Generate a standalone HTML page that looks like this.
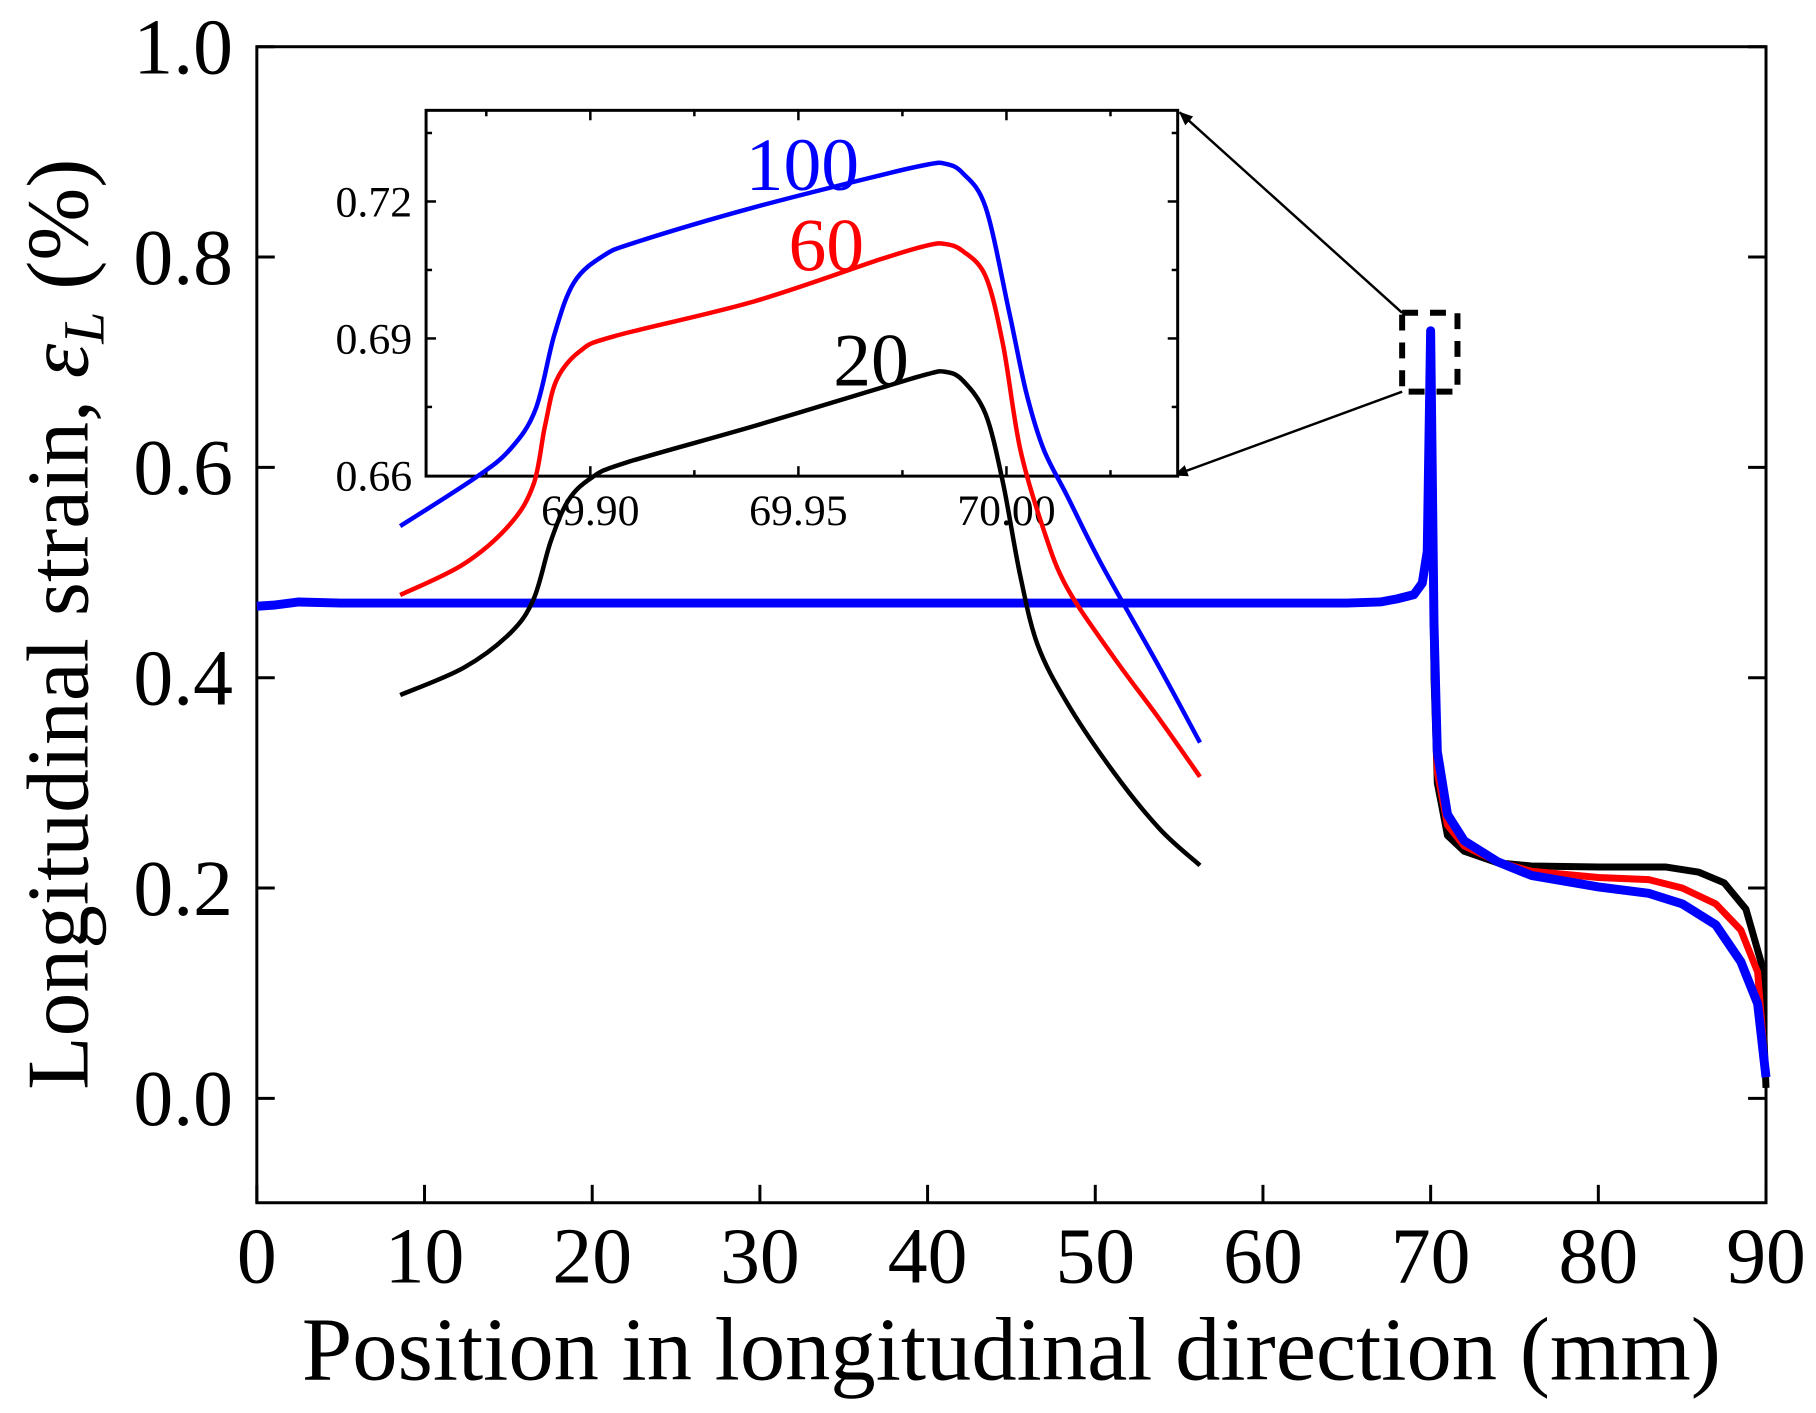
<!DOCTYPE html>
<html><head><meta charset="utf-8"><style>
html,body{margin:0;padding:0;background:#fff;}
svg{display:block;font-family:"Liberation Serif",serif;}
</style></head><body>
<svg id="chart" width="1816" height="1413" viewBox="0 0 1816 1413" xmlns="http://www.w3.org/2000/svg">
<defs><marker id="ah" markerWidth="14" markerHeight="12" refX="13" refY="6" orient="auto" markerUnits="userSpaceOnUse"><path d="M0,0 L14,6 L0,12 z" fill="#000"/></marker></defs>
<g transform="scale(0.9955,0.994)">
<g id="main"></g>
<g id="inset"></g>
</g>
</svg>
<script>
// ---- main chart data ----
const xTicksMain = [0,10,20,30,40,50,60,70,80,90];
const yTicksMain = [0.0,0.2,0.4,0.6,0.8,1.0];
const yTickLabelsMain = ["0.0","0.2","0.4","0.6","0.8","1.0"];
const sharedX = [0,1,2.5,5,20,40,60,65,67,68,69,69.5,69.8,70.0];
const sharedY = [0.468,0.469,0.472,0.471,0.471,0.471,0.471,0.471,0.472,0.475,0.479,0.49,0.52,0.73];
const blueTailX = [70.2,70.4,71,72,74,76,80,83,85,87,88.5,89.5,90];
const blueTailY = [0.45,0.33,0.27,0.245,0.225,0.212,0.201,0.195,0.185,0.165,0.13,0.09,0.02];
const redTailX = [70.2,70.4,71,72,74,76,80,83,85,87,88.5,89.5,90];
const redTailY = [0.42,0.31,0.26,0.24,0.225,0.216,0.21,0.208,0.2,0.185,0.16,0.12,0.02];
const blackTailX = [70.2,70.4,71,72,74,76,80,84,86,87.5,88.8,89.7,90];
const blackTailY = [0.4,0.30,0.25,0.235,0.224,0.221,0.22,0.22,0.215,0.205,0.18,0.13,0.01];
// ---- inset data ----
const insetXTicks = [69.90,69.95,70.00];
const insetXTickLabels = ["69.90","69.95","70.00"];
const insetYTicks = [0.66,0.69,0.72];
const insetYTickLabels = ["0.66","0.69","0.72"];
const insetBlueX = [69.8543,69.8724,69.8808,69.8869,69.8914,69.8961,69.9031,69.9114,69.9393,69.9699,69.9811,69.9852,69.9894,69.9950,70.0006,70.0047,70.0089,70.0145,70.0228,70.0368,70.0465];
const insetBlueY = [0.6489,0.6595,0.6658,0.6746,0.6910,0.7023,0.7081,0.7112,0.7187,0.7258,0.7281,0.7283,0.7263,0.7187,0.6960,0.6784,0.6658,0.6557,0.6406,0.6179,0.6015];
const insetRedX = [69.8543,69.8696,69.8808,69.8864,69.8891,69.8919,69.8975,69.9058,69.9393,69.9699,69.9811,69.9852,69.9894,69.9950,69.9992,70.0033,70.0089,70.0145,70.0256,70.0368,70.0465];
const insetRedY = [0.6338,0.6406,0.6494,0.6582,0.6708,0.6809,0.6872,0.6905,0.6981,0.7074,0.7104,0.7107,0.7092,0.7036,0.6885,0.6658,0.6482,0.6355,0.6204,0.6066,0.5940];
const insetBlackX = [69.8543,69.8696,69.8808,69.8864,69.8905,69.8947,69.9003,69.9086,69.9393,69.9699,69.9811,69.9852,69.9894,69.9950,69.9992,70.0033,70.0075,70.0145,70.0256,70.0368,70.0465];
const insetBlackY = [0.6119,0.6179,0.6255,0.6330,0.6456,0.6545,0.6595,0.6628,0.6708,0.6792,0.6822,0.6827,0.6809,0.6734,0.6582,0.6381,0.6229,0.6103,0.5952,0.5826,0.5746];

const NS="http://www.w3.org/2000/svg";
function mk(parent,tag,attrs,text){const e=document.createElementNS(NS,tag);for(const k in attrs)e.setAttribute(k,attrs[k]);if(text!==undefined)e.textContent=text;parent.appendChild(e);return e;}
const main=document.getElementById('main'), inset=document.getElementById('inset');

const L=258,R=1774,T=47,B=1210;
const sx=v=>L+(v-0)/90*(R-L);
const sy=v=>1105-v*1058;
function smoothPath(xs,ys,fx,fy){
  const p=xs.map((x,i)=>[fx(x),fy(ys[i])]);
  let d='M'+p[0][0].toFixed(1)+','+p[0][1].toFixed(1);
  for(let i=0;i<p.length-1;i++){
    const p0=p[Math.max(0,i-1)],p1=p[i],p2=p[i+1],p3=p[Math.min(p.length-1,i+2)];
    const c1=[p1[0]+(p2[0]-p0[0])/6,p1[1]+(p2[1]-p0[1])/6];
    const c2=[p2[0]-(p3[0]-p1[0])/6,p2[1]-(p3[1]-p1[1])/6];
    d+='C'+c1[0].toFixed(1)+','+c1[1].toFixed(1)+' '+c2[0].toFixed(1)+','+c2[1].toFixed(1)+' '+p2[0].toFixed(1)+','+p2[1].toFixed(1);
  }
  return d;
}
function linePath(xs,ys,fx,fy){return xs.map((x,i)=>(i?'L':'M')+fx(x).toFixed(1)+','+fy(ys[i]).toFixed(1)).join('');}

const frame=mk(main,'rect',{x:L,y:T,width:R-L,height:B-T,fill:'none',stroke:'#000','stroke-width':3});


xTicksMain.forEach(v=>{
  const t=mk(main,'line',{x1:sx(v),x2:sx(v),y1:B,y2:B-18,stroke:'#000','stroke-width':3});
  
  
  const lb=mk(main,'text',{x:sx(v),y:1290,'text-anchor':'middle','font-size':80},String(v));
  
  
});
yTicksMain.forEach((v,i)=>{
  const t=mk(main,'line',{x1:L,x2:L+18,y1:sy(v),y2:sy(v),stroke:'#000','stroke-width':3});
  
  
  const t2=mk(main,'line',{x1:R,x2:R-18,y1:sy(v),y2:sy(v),stroke:'#000','stroke-width':3});
  
  
  const lb=mk(main,'text',{x:234,y:sy(v)+27,'text-anchor':'end','font-size':80},yTickLabelsMain[i]);
  
  
});
const xt=mk(main,'text',{x:1016,y:1388,'text-anchor':'middle','font-size':91},'Position in longitudinal direction (mm)');


const yt=mk(main,'text',{x:0,y:0,'text-anchor':'middle','font-size':88,transform:'translate(88,628) rotate(-90)'});


mk(yt,'tspan',{},'Longitudinal strain, ');
mk(yt,'tspan',{'font-style':'italic'},'ε');
mk(yt,'tspan',{'font-style':'italic','font-size':58,dy:16},'L');
mk(yt,'tspan',{dy:-16},' (%)');

const series=[['black',blackTailX,blackTailY,'#000',7],['red',redTailX,redTailY,'#f00',7],['blue',blueTailX,blueTailY,'#00f',9]];
series.forEach(s=>{
  const xs=sharedX.concat(s[1]), ys=sharedY.concat(s[2]);
  const p=mk(main,'path',{d:linePath(xs,ys,sx,sy),fill:'none',stroke:s[3],'stroke-width':s[4],'stroke-linejoin':'round'});
  
  
});
const zb=mk(main,'rect',{x:sx(68.3),y:sy(0.747),width:sx(71.6)-sx(68.3),height:sy(0.672)-sy(0.747),fill:'none',stroke:'#000','stroke-width':6,'stroke-dasharray':'16,12'});


[[sx(68.3),sy(0.747),1185,113],[sx(68.3),sy(0.672),1180,478]].forEach(a=>{
  const l=mk(main,'line',{x1:a[0],y1:a[1],x2:a[2],y2:a[3],stroke:'#000','stroke-width':2.5,'marker-end':'url(#ah)'});
  
  
});

const IL=428,IR=1183,IT=111,IB=479;
const ix=v=>593+(v-69.90)/0.05*209;
const iy=v=>478.3-(v-0.66)/0.03*137.8;
const ifr=mk(inset,'rect',{x:IL,y:IT,width:IR-IL,height:IB-IT,fill:'#fff',stroke:'#000','stroke-width':3});


[69.875,69.90,69.925,69.95,69.975,70.00,70.025].forEach(v=>{
  const len=insetXTicks.some(t=>Math.abs(t-v)<1e-6)?10:6;
  [[IB,IB-len],[IT,IT+len]].forEach(p=>{
    const t=mk(inset,'line',{x1:ix(v),x2:ix(v),y1:p[0],y2:p[1],stroke:'#000','stroke-width':2.5});
    
    
  });
});
[0.675,0.69,0.705,0.72,0.735].forEach(v=>{
  const len=insetYTicks.some(t=>Math.abs(t-v)<1e-6)?10:6;
  [[IL,IL+len],[IR,IR-len]].forEach(p=>{
    const t=mk(inset,'line',{x1:p[0],x2:p[1],y1:iy(v),y2:iy(v),stroke:'#000','stroke-width':2.5});
    
    
  });
});
insetXTicks.forEach((v,i)=>{
  const lb=mk(inset,'text',{x:ix(v),y:528,'text-anchor':'middle','font-size':44},insetXTickLabels[i]);
  
  
});
insetYTicks.forEach((v,i)=>{
  const lb=mk(inset,'text',{x:414,y:iy(v)+15,'text-anchor':'end','font-size':44},insetYTickLabels[i]);
  
  
});
[['black',insetBlackX,insetBlackY,'#000'],['red',insetRedX,insetRedY,'#f00'],['blue',insetBlueX,insetBlueY,'#00f']].forEach(s=>{
  const p=mk(inset,'path',{d:smoothPath(s[1],s[2],ix,iy),fill:'none',stroke:s[3],'stroke-width':4.5,'stroke-linejoin':'round'});
  
  
});
[['100',806,191,'#00f'],['60',830,272,'#f00'],['20',875,388,'#000']].forEach(l=>{
  const t=mk(inset,'text',{x:l[1],y:l[2],'text-anchor':'middle','font-size':76,fill:l[3]},l[0]);
  
  
});
</script>
</body></html>
